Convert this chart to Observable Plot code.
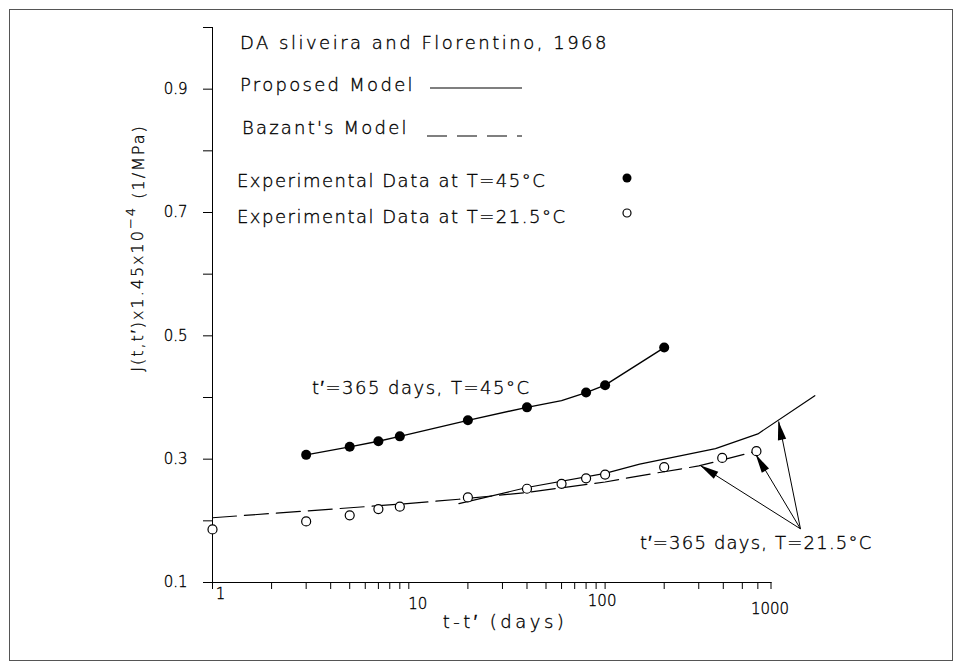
<!DOCTYPE html>
<html><head><meta charset="utf-8">
<script src="https://cdn.jsdelivr.net/npm/d3@7"></script>
<script src="https://cdn.jsdelivr.net/npm/@observablehq/plot@0.6"></script>
<style>
body{margin:0;background:#fff;}
#chart{position:absolute;left:0;top:0;}
</style></head><body>
<div id="chart"></div>
<script>
// ---------- data ----------
const t45 = [3, 5, 7, 9, 20, 40, 80, 100, 200];
const j45 = [0.307, 0.320, 0.329, 0.337, 0.363, 0.384, 0.408, 0.420, 0.481];
const tModel45 = [3, 5, 7, 9, 20, 40, 60, 80, 100, 200];
const jModel45 = [0.307, 0.320, 0.329, 0.337, 0.363, 0.384, 0.395, 0.408, 0.420, 0.481];
const t215 = [1, 3, 5, 7, 9, 20, 40, 60, 80, 100, 200, 395, 590];
const j215 = [0.186, 0.199, 0.209, 0.219, 0.223, 0.238, 0.252, 0.260, 0.269, 0.275, 0.287, 0.302, 0.313];
const tModel215 = [18, 40, 100, 150, 365, 600, 1170];
const jModel215 = [0.228, 0.254, 0.277, 0.292, 0.317, 0.341, 0.403];
const tBazant = [1, 9, 18, 40, 100, 150, 300, 590];
const jBazant = [0.205, 0.227, 0.235, 0.246, 0.263, 0.273, 0.289, 0.313];
const arrowFromT = 989, arrowFromJ = 0.187;
const arrowTipT = [306, 588, 767];
const arrowTipJ = [0.2895, 0.307, 0.361];
const xTicks = [1,2,3,4,5,6,7,8,9,10,20,30,40,50,60,70,80,90,100,200,300,400,500,600,700];
const xTickLabelValues = [1, 10, 100, 700];
const xTickLabels = ["1", "10", "100", "1000"];
const yTicks = [0.1,0.2,0.3,0.4,0.5,0.6,0.7,0.8,0.9,1.0];
const yTickLabelValues = [0.1, 0.3, 0.5, 0.7, 0.9];
const legendTexts = ["DA sliveira and Florentino, 1968", "Proposed Model", "Bazant's Model",
  "Experimental Data at T=45°C", "Experimental Data at T=21.5°C"];
const note45 = "t\u2032=365 days, T=45°C";
const note215 = "t\u2032=365 days, T=21.5°C";
const xTitle = "t-t\u2032 (days)";

// ---------- layout/style ----------
const FONT = "'DejaVu Sans', 'Liberation Sans', sans-serif";
const WEIGHT = 200;
const W = 962, H = 670;
const xLabelNudge = [[8, 12], [9, 22], [-3, 19], [-1, 27]];

const zip = (a, b) => a.map((v, i) => ({t: v, j: b[i]}));

const plot = Plot.plot({
  width: W, height: H,
  marginLeft: 212, marginRight: W - 770.5, marginTop: 27, marginBottom: H - 582,
  style: {fontFamily: FONT, fontSize: "14px", background: "white", color: "#000"},
  x: {type: "log", domain: [1, 700], ticks: xTicks, tickFormat: () => "", tickSize: 7, line: true, label: null},
  y: {domain: [0.1, 1.0], ticks: yTicks, tickSize: 9, line: true, label: null, tickFormat: () => ""},
  marks: [
    Plot.line(zip(tBazant, jBazant), {x: "t", y: "j", stroke: "#000", strokeWidth: 1.2, strokeDasharray: "24,8"}),
    Plot.line(zip(tModel215, jModel215), {x: "t", y: "j", stroke: "#000", strokeWidth: 1.2}),
    Plot.line(zip(tModel45, jModel45), {x: "t", y: "j", stroke: "#000", strokeWidth: 1.4}),
    Plot.link(arrowTipT.map((t, i) => i), {x1: () => arrowFromT, y1: () => arrowFromJ,
      x2: i => arrowTipT[i], y2: i => arrowTipJ[i], stroke: "#000", strokeWidth: 1}),
    Plot.dot(zip(t45, j45), {x: "t", y: "j", r: 5, fill: "#000", stroke: "none"}),
    Plot.dot(zip(t215, j215), {x: "t", y: "j", r: 4.5, fill: "white", stroke: "#000", strokeWidth: 1.2}),
    Plot.text(yTickLabelValues, {x: () => 1, y: d => d, text: d => d.toFixed(1), textAnchor: "end",
      dx: -25, fontSize: 15, fontWeight: WEIGHT, fill: "#000", stroke: "#000", strokeWidth: 0.35}),
    ...xTickLabelValues.map((v, i) => Plot.text([v], {x: d => d, y: () => 0.1, text: () => xTickLabels[i],
      dx: xLabelNudge[i][0], dy: xLabelNudge[i][1], fontSize: 15, fontWeight: WEIGHT, fill: "#000",
      stroke: "#000", strokeWidth: 0.35}))
  ]
});
document.getElementById("chart").appendChild(plot);

// ---------- annotations via the plot's own scales ----------
const svg = d3.select(plot);
const sx = plot.scale("x"), sy = plot.scale("y");
const X = v => sx.apply(v), Y = v => sy.apply(v);

// arrowheads (filled)
const x0 = X(arrowFromT), y0 = Y(arrowFromJ);
arrowTipT.forEach((t, i) => {
  const x1 = X(t), y1 = Y(arrowTipJ[i]);
  const a = Math.atan2(y1 - y0, x1 - x0);
  const L = 19, w = 4.2;
  const bx = x1 - L * Math.cos(a), by = y1 - L * Math.sin(a);
  const px = -Math.sin(a) * w, py = Math.cos(a) * w;
  svg.append("path").attr("d", `M${x1},${y1}L${bx + px},${by + py}L${bx - px},${by - py}Z`).attr("fill", "#000");
});

const txt = (x, y, s, size, anchor = "start", ls = 1.2) => svg.append("text")
  .attr("x", x).attr("y", y).attr("dy", "0.35em").attr("text-anchor", anchor)
  .attr("font-family", FONT).attr("font-size", size).attr("font-weight", WEIGHT).attr("letter-spacing", ls)
  .attr("fill", "#000").attr("stroke", "#000").attr("stroke-width", 0.35).text(s);

// legend
txt(240, 43, legendTexts[0], 18, "start", 2.5);
txt(240, 85, legendTexts[1], 18, "start", 2.3);
svg.append("line").attr("x1", 430).attr("x2", 522).attr("y1", 88).attr("y2", 88).attr("stroke", "#000").attr("stroke-width", 1.2);
txt(242, 128, legendTexts[2], 18, "start", 2.2);
svg.append("line").attr("x1", 427).attr("x2", 522).attr("y1", 136).attr("y2", 136).attr("stroke", "#000")
  .attr("stroke-width", 1.2).attr("stroke-dasharray", "20,10");
txt(237, 181, legendTexts[3], 18, "start", 1.5);
svg.append("circle").attr("cx", 627).attr("cy", 178).attr("r", 4.5).attr("fill", "#000");
txt(237, 217, legendTexts[4], 18, "start", 1.5);
svg.append("circle").attr("cx", 627).attr("cy", 213).attr("r", 4).attr("fill", "white").attr("stroke", "#000").attr("stroke-width", 1.2);

// curve notes
txt(312, 388, note45, 18, "start", 1.5);
txt(640, 543, note215, 18, "start", 1.2);

// axis titles
txt(505, 622, xTitle, 18, "middle", 3.5);
const yt = svg.append("text").attr("transform", "translate(137,248) rotate(-90)")
  .attr("text-anchor", "middle").attr("dy", "0.35em").attr("font-family", FONT).attr("font-size", 16)
  .attr("font-weight", WEIGHT).attr("letter-spacing", 2).attr("fill", "#000").attr("stroke", "#000").attr("stroke-width", 0.3);
yt.append("tspan").text("J(t,t\u2032)x1.45x10");
yt.append("tspan").attr("dy", "-0.55em").attr("font-size", 13).text("\u22124");
yt.append("tspan").attr("dy", "0.55em").text(" (1/MPa)");

// outer frame
svg.append("rect").attr("x", 9.5).attr("y", 9.5).attr("width", 943).attr("height", 651)
  .attr("fill", "none").attr("stroke", "#555").attr("stroke-width", 1);
</script>
</body></html>
